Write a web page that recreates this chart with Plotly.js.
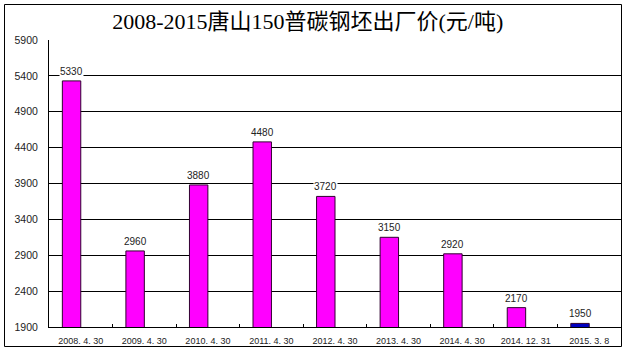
<!DOCTYPE html>
<html><head><meta charset="utf-8">
<script src="https://cdn.plot.ly/plotly-3.0.1.min.js"></script>
<style>html,body{margin:0;padding:0;background:#fff}#chart{width:628px;height:353px}</style>
</head><body><div id="chart"></div>
<script>
const categories = ["2008. 4. 30","2009. 4. 30","2010. 4. 30","2011. 4. 30","2012. 4. 30","2013. 4. 30","2014. 4. 30","2014. 12. 31","2015. 3. 8"];
const prices = [5330, 2960, 3880, 4480, 3720, 3150, 2920, 2170, 1950];
const yTicks = [1900, 2400, 2900, 3400, 3900, 4400, 4900, 5400, 5900];
const titleText = "2008-2015唐山150普碳钢坯出厂价(元/吨)";

const barW = 0.29;
const colors = prices.map((v, i) => i === prices.length - 1 ? "#0000C0" : "#FF00FF");

const trace = {
  type: "bar",
  x: categories,
  y: prices,
  width: barW,
  offset: -barW,
  marker: {color: colors, line: {color: "#300030", width: 1}},
  hoverinfo: "none",
  cliponaxis: true
};

const annotations = prices.map((v, i) => ({
  x: i - barW / 2, y: v, xref: "x", yref: "y",
  text: String(v), showarrow: false, yanchor: "bottom", yshift: 3,
  bgcolor: "#ffffff", borderpad: 0,
  font: {family: "Liberation Sans, Arial, sans-serif", size: 10, color: "#222"}
}));

const P = (px) => (px - 49) / 572;
const Q = (py) => (327 - py) / 287;

const layout = {
  width: 628, height: 353,
  margin: {l: 49, r: 7, t: 40, b: 26},
  paper_bgcolor: "#fff", plot_bgcolor: "#fff",
  showlegend: false,
  title: {text: titleText, x: 0.49, xanchor: "center", y: 0.94, yanchor: "middle",
    font: {family: "Liberation Serif, Noto Sans CJK SC, serif", size: 22, color: "#000"}},
  xaxis: {type: "category", showline: true, linecolor: "#000", linewidth: 1,
    ticks: "inside", ticklen: 3, tickcolor: "#000", tickson: "boundaries",
    showgrid: false, range: [-0.5, categories.length - 0.5],
    tickfont: {family: "Liberation Sans, Arial, sans-serif", size: 9, color: "#222"},
    ticklabelstandoff: 5, fixedrange: true},
  yaxis: {range: [1900, 5900], tickvals: yTicks,
    showgrid: true, gridcolor: "#000", gridwidth: 1, showline: true, linecolor: "#000", linewidth: 1,
    zeroline: false, ticks: "", ticklabelstandoff: 8,
    tickfont: {family: "Liberation Sans, Arial, sans-serif", size: 10.5, color: "#222"}, fixedrange: true},
  annotations: annotations,
  shapes: [{type: "rect", xref: "paper", yref: "paper", x0: P(4.5), x1: P(621.5), y0: Q(346.5), y1: Q(4.5),
    line: {color: "#000", width: 1}, fillcolor: "rgba(0,0,0,0)"}]
};

Plotly.newPlot("chart", [trace], layout, {staticPlot: true, displayModeBar: false});
</script></body></html>
